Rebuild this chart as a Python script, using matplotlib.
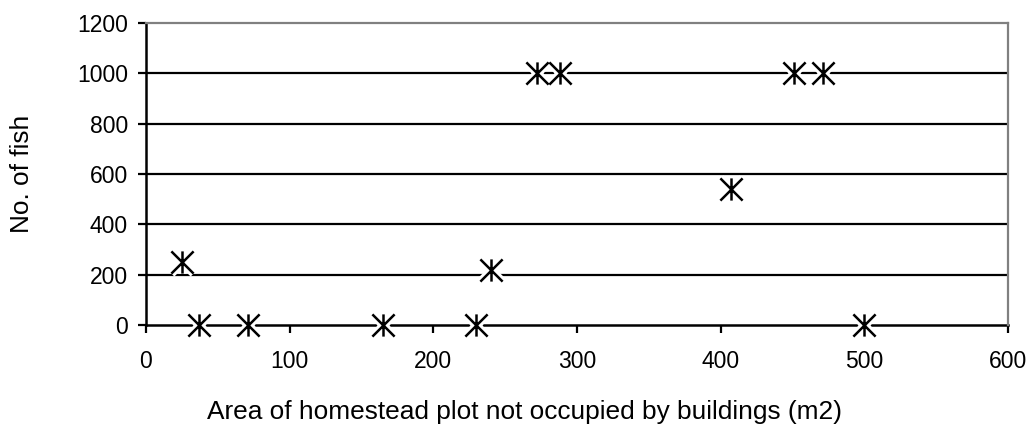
import matplotlib.pyplot as plt
from matplotlib.path import Path

# Data
area_m2 = [25, 37, 71, 165, 230, 240, 272, 288, 407, 451, 471, 500]
no_fish = [250, 0, 0, 0, 0, 220, 1000, 1000, 540, 1000, 1000, 0]

x_ticks = [0, 100, 200, 300, 400, 500, 600]
y_ticks = [0, 200, 400, 600, 800, 1000, 1200]

plt.rcParams['font.family'] = ['Liberation Sans', 'DejaVu Sans']

# Excel style star marker: an X with a vertical bar through it
star = Path([(-1, -1), (1, 1), (-1, 1), (1, -1), (0, -1), (0, 1)],
            [Path.MOVETO, Path.LINETO, Path.MOVETO, Path.LINETO, Path.MOVETO, Path.LINETO])

fig = plt.figure(figsize=(10.31, 4.24), dpi=100)
ax = fig.add_axes([0.1416, 0.2335, 0.836, 0.7123])

for y in y_ticks[1:-1]:
    ax.axhline(y, color='black', lw=1.6, zorder=1)

# white halo first so the gridlines get broken around each marker
ax.plot(area_m2, no_fish, linestyle='none', marker=star, markersize=16,
        markeredgewidth=6, color='white', zorder=3, clip_on=False)
ax.plot(area_m2, no_fish, linestyle='none', marker=star, markersize=16,
        markeredgewidth=1.8, color='black', zorder=4, clip_on=False)

ax.set_xlim(0, 600)
ax.set_ylim(0, 1200)
ax.set_xticks(x_ticks)
ax.set_yticks(y_ticks)
ax.tick_params(labelsize=16.5, width=1.6, length=6, color='black')
ax.tick_params(axis='x', pad=12)
ax.tick_params(axis='y', pad=7)

for side in ['top', 'right']:
    ax.spines[side].set_color('#808080')
    ax.spines[side].set_linewidth(1.6)
for side in ['left', 'bottom']:
    ax.spines[side].set_color('black')
    ax.spines[side].set_linewidth(1.8)
    ax.spines[side].set_zorder(2)

ax.set_xlabel("Area of homestead plot not occupied by buildings (m2)", fontsize=18.9, va='baseline')
ax.xaxis.set_label_coords(0.4397, -0.311)
ax.set_ylabel("No. of fish", fontsize=18.9, va='center')
ax.yaxis.set_label_coords(-0.1439, 0.5)

fig.savefig("out.png", dpi=100)
